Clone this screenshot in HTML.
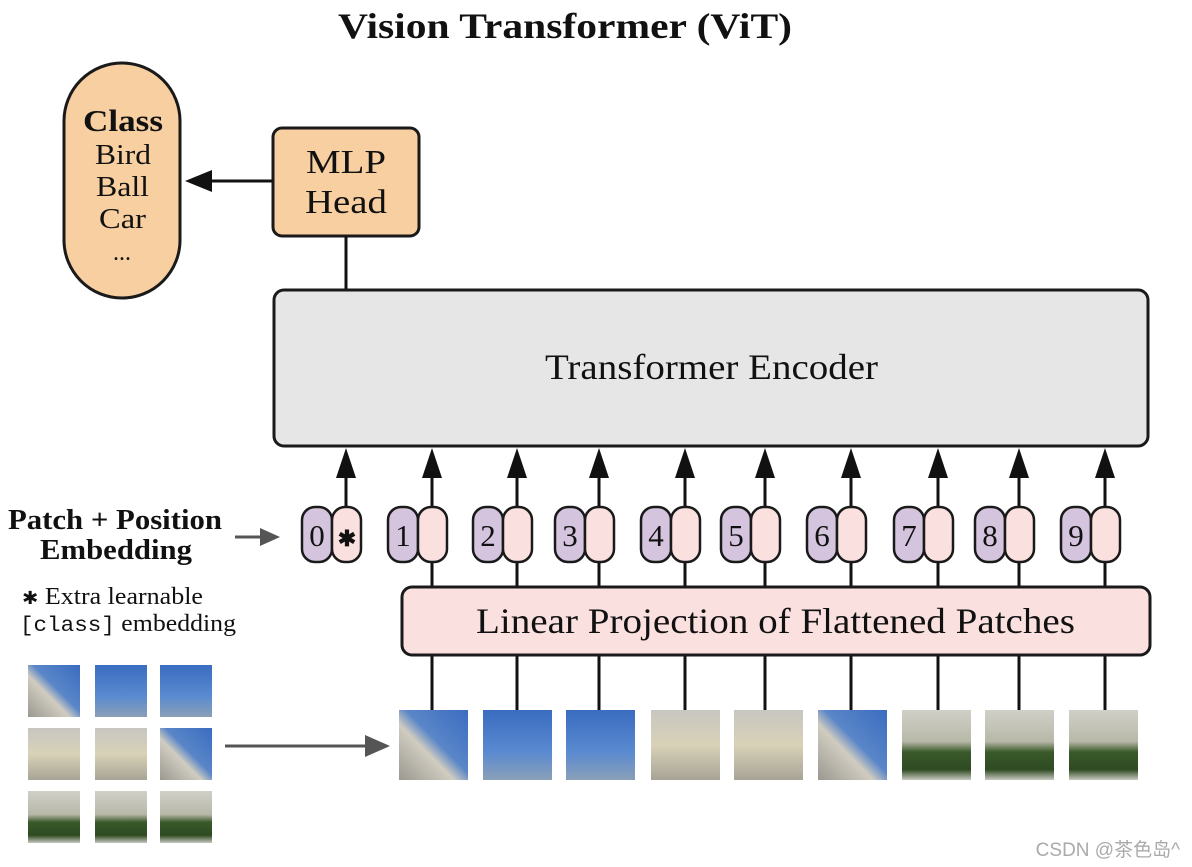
<!DOCTYPE html>
<html><head><meta charset="utf-8"><style>
html,body{margin:0;padding:0;background:#fff}
svg{display:block}
text{font-family:"Liberation Serif",serif;fill:#111}
</style></head><body>
<svg width="1192" height="867" viewBox="0 0 1192 867" xmlns="http://www.w3.org/2000/svg">
<defs>
<linearGradient id="sky" x1="0" y1="0" x2="0" y2="1"><stop offset="0" stop-color="#3a6cc0"/><stop offset="0.6" stop-color="#5a8ad0"/><stop offset="1" stop-color="#8aa0b8"/></linearGradient>
<linearGradient id="bld" x1="0" y1="0" x2="0" y2="1"><stop offset="0" stop-color="#c8c6c0"/><stop offset="0.5" stop-color="#d8d2b8"/><stop offset="1" stop-color="#a8a496"/></linearGradient>
<linearGradient id="bldsky" x1="1" y1="0" x2="0" y2="1"><stop offset="0" stop-color="#3a6cc0"/><stop offset="0.45" stop-color="#5a86c8"/><stop offset="0.6" stop-color="#d0ccc0"/><stop offset="1" stop-color="#9a9890"/></linearGradient>
<linearGradient id="grn" x1="0" y1="0" x2="0" y2="1"><stop offset="0" stop-color="#d0d0c8"/><stop offset="0.45" stop-color="#b8b8a8"/><stop offset="0.6" stop-color="#3a5a2a"/><stop offset="0.85" stop-color="#2e4a22"/><stop offset="1" stop-color="#c8c8c0"/></linearGradient>
</defs>

<text x="338" y="38" font-size="36" font-weight="bold" textLength="454" lengthAdjust="spacingAndGlyphs">Vision Transformer (ViT)</text>

<!-- Class pill -->
<rect x="64" y="63" width="116" height="235" rx="58" fill="#f8cfa0" stroke="#1a1a1a" stroke-width="3"/>
<text x="83" y="131" font-size="31" font-weight="bold" textLength="80" lengthAdjust="spacingAndGlyphs">Class</text>
<text x="95" y="164" font-size="28" textLength="56" lengthAdjust="spacingAndGlyphs">Bird</text>
<text x="96" y="196" font-size="28" textLength="53" lengthAdjust="spacingAndGlyphs">Ball</text>
<text x="99" y="228" font-size="28" textLength="47" lengthAdjust="spacingAndGlyphs">Car</text>
<text x="122" y="260" font-size="24" text-anchor="middle">...</text>

<!-- MLP head -->
<rect x="273" y="128" width="146" height="108" rx="9" fill="#f8cfa0" stroke="#1a1a1a" stroke-width="3"/>
<text x="306" y="173" font-size="34" textLength="80" lengthAdjust="spacingAndGlyphs">MLP</text>
<text x="305" y="213" font-size="34" textLength="82" lengthAdjust="spacingAndGlyphs">Head</text>
<line x1="273" y1="181" x2="205" y2="181" stroke="#111" stroke-width="3"/>
<polygon points="185,181 212,170 212,192" fill="#111"/>
<line x1="346" y1="236" x2="346" y2="291" stroke="#111" stroke-width="3"/>

<!-- Encoder -->
<rect x="274" y="290" width="874" height="156" rx="10" fill="#e6e6e6" stroke="#1a1a1a" stroke-width="3"/>
<text x="545" y="379" font-size="36" textLength="333" lengthAdjust="spacingAndGlyphs">Transformer Encoder</text>

<!-- arrows & tokens -->
<g stroke="#111" stroke-width="3">
<line x1="346" y1="475" x2="346" y2="507"/><line x1="432" y1="475" x2="432" y2="588"/><line x1="517" y1="475" x2="517" y2="588"/><line x1="599" y1="475" x2="599" y2="588"/><line x1="685" y1="475" x2="685" y2="588"/><line x1="765" y1="475" x2="765" y2="588"/><line x1="851" y1="475" x2="851" y2="588"/><line x1="938" y1="475" x2="938" y2="588"/><line x1="1019" y1="475" x2="1019" y2="588"/><line x1="1105" y1="475" x2="1105" y2="588"/>
<line x1="432" y1="655" x2="432" y2="710"/><line x1="517" y1="655" x2="517" y2="710"/><line x1="599" y1="655" x2="599" y2="710"/><line x1="685" y1="655" x2="685" y2="710"/><line x1="765" y1="655" x2="765" y2="710"/><line x1="851" y1="655" x2="851" y2="710"/><line x1="938" y1="655" x2="938" y2="710"/><line x1="1019" y1="655" x2="1019" y2="710"/><line x1="1105" y1="655" x2="1105" y2="710"/>
</g>
<g fill="#111">
<polygon points="346,448 336,478 356,478"/><polygon points="432,448 422,478 442,478"/><polygon points="517,448 507,478 527,478"/><polygon points="599,448 589,478 609,478"/><polygon points="685,448 675,478 695,478"/><polygon points="765,448 755,478 775,478"/><polygon points="851,448 841,478 861,478"/><polygon points="938,448 928,478 948,478"/><polygon points="1019,448 1009,478 1029,478"/><polygon points="1105,448 1095,478 1115,478"/>
</g>
<g stroke="#1a1a1a" stroke-width="2.5">
<rect x="302" y="507" width="30" height="55" rx="13" fill="#d4c4de"/><rect x="332" y="507" width="29" height="55" rx="13" fill="#fbe0e0"/>
<rect x="388" y="507" width="30" height="55" rx="13" fill="#d4c4de"/><rect x="418" y="507" width="29" height="55" rx="13" fill="#fbe0e0"/>
<rect x="473" y="507" width="30" height="55" rx="13" fill="#d4c4de"/><rect x="503" y="507" width="29" height="55" rx="13" fill="#fbe0e0"/>
<rect x="555" y="507" width="30" height="55" rx="13" fill="#d4c4de"/><rect x="585" y="507" width="29" height="55" rx="13" fill="#fbe0e0"/>
<rect x="641" y="507" width="30" height="55" rx="13" fill="#d4c4de"/><rect x="671" y="507" width="29" height="55" rx="13" fill="#fbe0e0"/>
<rect x="721" y="507" width="30" height="55" rx="13" fill="#d4c4de"/><rect x="751" y="507" width="29" height="55" rx="13" fill="#fbe0e0"/>
<rect x="807" y="507" width="30" height="55" rx="13" fill="#d4c4de"/><rect x="837" y="507" width="29" height="55" rx="13" fill="#fbe0e0"/>
<rect x="894" y="507" width="30" height="55" rx="13" fill="#d4c4de"/><rect x="924" y="507" width="29" height="55" rx="13" fill="#fbe0e0"/>
<rect x="975" y="507" width="30" height="55" rx="13" fill="#d4c4de"/><rect x="1005" y="507" width="29" height="55" rx="13" fill="#fbe0e0"/>
<rect x="1061" y="507" width="30" height="55" rx="13" fill="#d4c4de"/><rect x="1091" y="507" width="29" height="55" rx="13" fill="#fbe0e0"/>
</g>
<g font-size="31" text-anchor="middle">
<text x="317" y="546">0</text><text x="347" y="546" font-size="22" font-weight="bold">✱</text>
<text x="403" y="546">1</text><text x="488" y="546">2</text><text x="570" y="546">3</text><text x="656" y="546">4</text><text x="736" y="546">5</text><text x="822" y="546">6</text><text x="909" y="546">7</text><text x="990" y="546">8</text><text x="1076" y="546">9</text>
</g>

<!-- projection -->
<rect x="402" y="587" width="748" height="68" rx="10" fill="#fbe0e0" stroke="#1a1a1a" stroke-width="3"/>
<text x="476" y="633" font-size="36" textLength="599" lengthAdjust="spacingAndGlyphs">Linear Projection of Flattened Patches</text>

<!-- left labels -->
<text x="8" y="529" font-size="28" font-weight="bold" textLength="214" lengthAdjust="spacingAndGlyphs">Patch + Position</text>
<text x="40" y="559" font-size="28" font-weight="bold" textLength="152" lengthAdjust="spacingAndGlyphs">Embedding</text>
<line x1="235" y1="537" x2="262" y2="537" stroke="#555" stroke-width="3"/>
<polygon points="280,537 260,528 260,546" fill="#555"/>
<text x="22" y="604" font-size="24" textLength="181" lengthAdjust="spacingAndGlyphs"><tspan font-size="18">✱</tspan> Extra learnable</text>
<text x="20" y="631" font-size="24" textLength="216" lengthAdjust="spacingAndGlyphs"><tspan font-family="Liberation Mono,monospace" font-size="21">[class]</tspan> embedding</text>

<!-- grid -->
<rect x="28" y="665" width="52" height="52" fill="url(#bldsky)"/><rect x="95" y="665" width="52" height="52" fill="url(#sky)"/><rect x="160" y="665" width="52" height="52" fill="url(#sky)"/>
<rect x="28" y="728" width="52" height="52" fill="url(#bld)"/><rect x="95" y="728" width="52" height="52" fill="url(#bld)"/><rect x="160" y="728" width="52" height="52" fill="url(#bldsky)"/>
<rect x="28" y="791" width="52" height="52" fill="url(#grn)"/><rect x="95" y="791" width="52" height="52" fill="url(#grn)"/><rect x="160" y="791" width="52" height="52" fill="url(#grn)"/>
<line x1="225" y1="746" x2="370" y2="746" stroke="#555" stroke-width="3"/>
<polygon points="390,746 365,735 365,757" fill="#555"/>

<!-- patches -->
<rect x="399" y="710" width="69" height="70" fill="url(#bldsky)"/>
<rect x="483" y="710" width="69" height="70" fill="url(#sky)"/>
<rect x="566" y="710" width="69" height="70" fill="url(#sky)"/>
<rect x="651" y="710" width="69" height="70" fill="url(#bld)"/>
<rect x="734" y="710" width="69" height="70" fill="url(#bld)"/>
<rect x="818" y="710" width="69" height="70" fill="url(#bldsky)"/>
<rect x="902" y="710" width="69" height="70" fill="url(#grn)"/>
<rect x="985" y="710" width="69" height="70" fill="url(#grn)"/>
<rect x="1069" y="710" width="69" height="70" fill="url(#grn)"/>

<text x="1180" y="856" font-size="19" text-anchor="end" style="font-family:'Liberation Sans','Noto Sans CJK SC',sans-serif;fill:#aaa">CSDN @茶色岛^</text>
</svg>
</body></html>
